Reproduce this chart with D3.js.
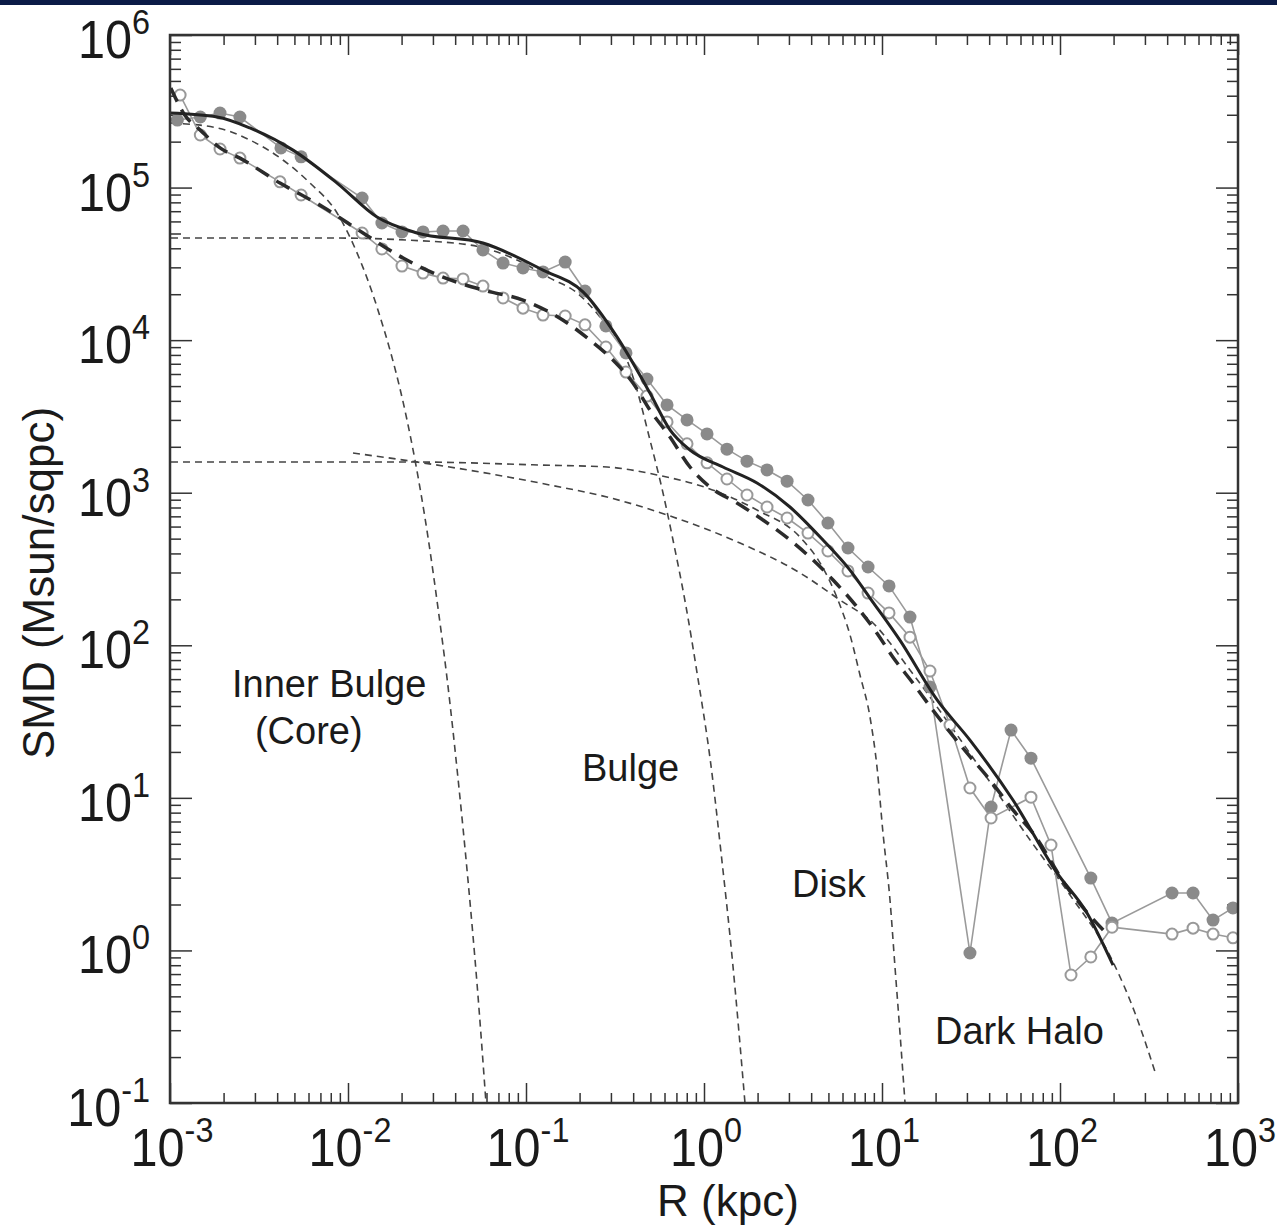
<!DOCTYPE html>
<html>
<head>
<meta charset="utf-8">
<script src="https://cdn.jsdelivr.net/npm/d3@7"></script>
<style>
  body { margin: 0; background: #fff; }
  text { font-family: "Liberation Sans", Arial, sans-serif; fill: #1a1a1a; }
</style>
</head>
<body>
<svg id="chart" width="1277" height="1230"></svg>
<script>
// decade exponents for the two log axes
var xExp = [-3, -2, -1, 0, 1, 2, 3];
var yExp = [-1, 0, 1, 2, 3, 4, 5, 6];

// observed profile, filled grey dots  [R kpc, SMD]
var filledPts = [
  [0.0011, 2.77e5], [0.00148, 2.90e5], [0.00191, 3.08e5], [0.00247, 2.90e5],
  [0.0042, 1.82e5], [0.00545, 1.59e5], [0.0120, 8.54e4], [0.0155, 5.86e4],
  [0.0201, 5.12e4], [0.0264, 5.12e4], [0.0342, 5.19e4], [0.0443, 5.19e4],
  [0.0573, 3.90e4], [0.0743, 3.20e4], [0.0962, 2.97e4], [0.1246, 2.80e4],
  [0.166, 3.25e4], [0.2145, 2.10e4], [0.281, 1.24e4], [0.3645, 8.24e3],
  [0.478, 5.56e3], [0.620, 3.76e3], [0.803, 3.00e3], [1.04, 2.43e3],
  [1.346, 1.93e3], [1.744, 1.61e3], [2.26, 1.41e3], [2.93, 1.19e3],
  [3.84, 896], [4.97, 633], [6.44, 434], [8.35, 326], [10.95, 245],
  [14.36, 153], [18.6, 53.3], [31.2, 0.962], [41.0, 8.71], [53.1, 27.8],
  [68.7, 18.2], [149, 2.98], [196, 1.51], [426, 2.38], [559, 2.38],
  [724, 1.58], [937, 1.90]
];

// observed profile, open circles
var openPts = [
  [0.00114, 4.04e5], [0.00148, 2.21e5], [0.00191, 1.79e5], [0.00247, 1.56e5],
  [0.00415, 1.09e5], [0.00545, 8.94e4], [0.0120, 5.04e4], [0.0155, 3.96e4],
  [0.0201, 3.06e4], [0.0264, 2.75e4], [0.0342, 2.55e4], [0.0443, 2.52e4],
  [0.0573, 2.26e4], [0.0743, 1.89e4], [0.0962, 1.62e4], [0.1246, 1.46e4],
  [0.166, 1.44e4], [0.2145, 1.26e4], [0.281, 9.02e3], [0.3645, 6.18e3],
  [0.478, 4.30e3], [0.620, 2.91e3], [0.803, 2.09e3], [1.04, 1.57e3],
  [1.346, 1.23e3], [1.744, 966], [2.26, 806], [2.93, 683], [3.84, 544],
  [4.97, 415], [6.44, 307], [8.35, 220], [10.95, 163], [14.36, 113],
  [18.6, 67.8], [24.1, 30.0], [31.2, 11.6], [41.0, 7.38], [68.7, 10.1],
  [89.0, 4.91], [115.3, 0.690], [149, 0.906], [196, 1.42], [426, 1.28],
  [559, 1.40], [724, 1.28], [937, 1.21]
];

// total model for the filled profile (solid)
var totalFilled = [
  [0.001, 3.08e5], [0.00184, 2.90e5], [0.00281, 2.46e5], [0.00491, 1.76e5],
  [0.00868, 1.07e5], [0.01455, 6.41e4], [0.0244, 5.04e4], [0.0573, 4.33e4],
  [0.1246, 2.88e4], [0.209, 2.07e4], [0.3245, 1.05e4], [0.497, 4.50e3],
  [0.644, 2.58e3], [0.834, 1.905e3], [1.278, 1.474e3], [1.985, 1.158e3],
  [3.04, 806], [4.66, 490], [6.61, 311], [8.56, 204], [12.6, 108],
  [20.4, 43.8], [31.2, 23.9], [54.4, 9.68], [96.2, 3.22], [141.8, 1.76],
  [198.6, 0.80]
];

// total model for the open profile (long dashes)
var totalOpen = [
  [0.00101, 4.49e5], [0.00121, 2.99e5], [0.00148, 2.38e5], [0.00191, 1.82e5],
  [0.00247, 1.56e5], [0.00415, 1.07e5], [0.00724, 7.46e4], [0.01215, 5.04e4],
  [0.0204, 3.45e4], [0.0342, 2.59e4], [0.0573, 2.13e4], [0.0962, 1.83e4],
  [0.161, 1.355e4], [0.229, 1.00e4], [0.308, 7.41e3], [0.399, 5.24e3],
  [0.497, 3.48e3], [0.644, 2.32e3], [0.834, 1.474e3], [1.081, 1.09e3],
  [1.532, 856], [2.145, 662], [3.04, 490], [4.10, 362], [5.31, 268],
  [7.24, 178], [9.37, 120], [11.5, 83.8], [14.9, 56.6], [19.3, 37.6],
  [30.0, 19.7], [40.4, 13.1], [54.4, 8.33], [70.5, 5.88], [109.5, 2.60],
  [186, 1.26]
];

// components (short dashes)
var innerBulge = [
  [0.001013, 2.65e5], [0.00184, 2.46e5], [0.00281, 2.05e5], [0.00431, 1.516e5],
  [0.00612, 1.07e5], [0.00868, 6.81e4], [0.01124, 3.73e4], [0.01455, 1.65e4],
  [0.02145, 3.00e3], [0.02378, 1.64e3], [0.02814, 512], [0.0320, 177],
  [0.0360, 61], [0.0415, 13.4], [0.0472, 2.9], [0.0531, 0.60], [0.0596, 0.1]
];
var bulge = [
  [0.001013, 4.67e4], [0.00823, 4.67e4], [0.02145, 4.53e4], [0.0485, 4.20e4],
  [0.089, 3.35e4], [0.1364, 2.55e4], [0.1934, 2.04e4], [0.2604, 1.418e4],
  [0.3506, 8.62e3], [0.4204, 4.71e3], [0.497, 2.22e3], [0.5885, 996],
  [0.6696, 490], [0.792, 180], [0.914, 66], [1.093, 16.5], [1.246, 4.4],
  [1.45, 0.82], [1.699, 0.1]
];
var disk = [
  [0.001013, 1.59e3], [0.0232, 1.59e3], [0.1199, 1.519e3], [0.2851, 1.474e3],
  [0.5445, 1.307e3], [1.04, 1.074e3], [1.985, 770], [3.462, 512],
  [4.662, 321], [5.657, 198], [6.61, 117], [7.52, 63.9], [8.56, 33.9],
  [9.374, 15.9], [10.13, 5.88], [11.09, 2.14], [11.83, 0.778],
  [12.62, 0.2875], [13.47, 0.1]
];
var darkHalo = [
  [0.01067, 1.82e3], [0.0244, 1.59e3], [0.0551, 1.367e3], [0.1364, 1.123e3],
  [0.2851, 937], [0.6696, 693], [1.593, 468], [3.462, 298], [5.808, 198],
  [8.90, 140], [14.36, 68.9], [24.1, 30.0], [40.4, 12.7], [67.9, 5.29],
  [113.8, 2.31], [198.6, 0.84], [263.8, 0.389], [341.8, 0.160]
];

// component names, anchored at their left baseline [R, SMD]
var labels = [
  { t: "Inner Bulge", r: 0.00223, v: 45.8 },
  { t: "(Core)", r: 0.0030, v: 22.5 },
  { t: "Bulge", r: 0.2064, v: 12.9 },
  { t: "Disk", r: 3.12, v: 2.24 },
  { t: "Dark Halo", r: 19.85, v: 0.2435 }
];

var svg = d3.select("#chart");
var pLeft = 170, pRight = 1238, pTop = 35, pBottom = 1103;

svg.append("rect").attr("x", 0).attr("y", 0).attr("width", 1277).attr("height", 5)
  .attr("fill", "#0b1b47");

var x = d3.scaleLog().domain([1e-3, 1e3]).range([pLeft, pRight]);
var y = d3.scaleLog().domain([1e-1, 1e6]).range([pBottom, pTop]);

var majorX = xExp.map(function (e) { return Math.pow(10, e); });
var majorY = yExp.map(function (e) { return Math.pow(10, e); });
var minorX = [], minorY = [];
xExp.slice(0, -1).forEach(function (e) { for (var k = 2; k < 10; k++) minorX.push(k * Math.pow(10, e)); });
yExp.slice(0, -1).forEach(function (e) { for (var k = 2; k < 10; k++) minorY.push(k * Math.pow(10, e)); });

// inward ticks on all four sides
function tickAxis(axis, tx, ty) {
  var g = svg.append("g").attr("transform", "translate(" + tx + "," + ty + ")").call(axis);
  g.select(".domain").remove();
  g.selectAll(".tick line").attr("stroke", "#333").attr("stroke-width", 1.5);
  g.selectAll(".tick text").remove();
}
tickAxis(d3.axisBottom(x).tickValues(majorX).tickSize(-20), 0, pBottom);
tickAxis(d3.axisBottom(x).tickValues(minorX).tickSize(-10), 0, pBottom);
tickAxis(d3.axisTop(x).tickValues(majorX).tickSize(-20), 0, pTop);
tickAxis(d3.axisTop(x).tickValues(minorX).tickSize(-10), 0, pTop);
tickAxis(d3.axisLeft(y).tickValues(majorY).tickSize(-22), pLeft, 0);
tickAxis(d3.axisLeft(y).tickValues(minorY).tickSize(-11), pLeft, 0);
tickAxis(d3.axisRight(y).tickValues(majorY).tickSize(-22), pRight, 0);
tickAxis(d3.axisRight(y).tickValues(minorY).tickSize(-11), pRight, 0);

svg.append("defs").append("clipPath").attr("id", "clip")
  .append("rect").attr("x", pLeft).attr("y", pTop)
  .attr("width", pRight - pLeft).attr("height", pBottom - pTop);

var plot = svg.append("g").attr("clip-path", "url(#clip)");

var smooth = d3.line()
  .x(function (d) { return x(d[0]); })
  .y(function (d) { return y(d[1]); })
  .curve(d3.curveMonotoneX);
var straight = d3.line()
  .x(function (d) { return x(d[0]); })
  .y(function (d) { return y(d[1]); });

// component curves
[innerBulge, bulge, disk, darkHalo].forEach(function (c) {
  plot.append("path").datum(c)
    .attr("d", smooth)
    .attr("fill", "none")
    .attr("stroke", "#444")
    .attr("stroke-width", 1.6)
    .attr("stroke-dasharray", "7,5");
});

// observed profiles
plot.append("path").datum(filledPts).attr("d", straight)
  .attr("fill", "none").attr("stroke", "#9a9a9a").attr("stroke-width", 1.6);
plot.append("path").datum(openPts).attr("d", straight)
  .attr("fill", "none").attr("stroke", "#9a9a9a").attr("stroke-width", 1.6);

plot.selectAll(".filled").data(filledPts).enter().append("circle")
  .attr("class", "filled")
  .attr("cx", function (d) { return x(d[0]); })
  .attr("cy", function (d) { return y(d[1]); })
  .attr("r", 6.5)
  .attr("fill", "#8a8a8a");

plot.selectAll(".open").data(openPts).enter().append("circle")
  .attr("class", "open")
  .attr("cx", function (d) { return x(d[0]); })
  .attr("cy", function (d) { return y(d[1]); })
  .attr("r", 5.5)
  .attr("fill", "#fff")
  .attr("stroke", "#999")
  .attr("stroke-width", 2);

// model totals
plot.append("path").datum(totalOpen).attr("d", smooth)
  .attr("fill", "none").attr("stroke", "#2b2b2b").attr("stroke-width", 3.5)
  .attr("stroke-dasharray", "15,9");
plot.append("path").datum(totalFilled).attr("d", smooth)
  .attr("fill", "none").attr("stroke", "#222").attr("stroke-width", 3);

// frame
svg.append("rect").attr("x", pLeft).attr("y", pTop)
  .attr("width", pRight - pLeft).attr("height", pBottom - pTop)
  .attr("fill", "none").attr("stroke", "#333").attr("stroke-width", 2.5);

// tick labels 10^n
function powLabel(g, e) {
  g.append("tspan").attr("font-size", 54).text("10");
  g.append("tspan").attr("font-size", 36).attr("dy", -24).text(e);
}
xExp.forEach(function (e) {
  var t = svg.append("text")
    .attr("transform", "translate(" + (x(Math.pow(10, e)) + 2) + ",1166) scale(0.9,1)")
    .attr("text-anchor", "middle");
  powLabel(t, e);
});
yExp.forEach(function (e) {
  var t = svg.append("text")
    .attr("transform", "translate(150," + (y(Math.pow(10, e)) + 23) + ") scale(0.9,1)")
    .attr("text-anchor", "end");
  powLabel(t, e);
});

// axis titles
svg.append("text").attr("x", 728).attr("y", 1216).attr("text-anchor", "middle")
  .attr("font-size", 44).text("R (kpc)");
svg.append("text").attr("transform", "translate(54,583) rotate(-90)")
  .attr("text-anchor", "middle").attr("font-size", 44).text("SMD (Msun/sqpc)");

// component labels
svg.selectAll(".lab").data(labels).enter().append("text")
  .attr("class", "lab")
  .attr("x", function (d) { return x(d.r); })
  .attr("y", function (d) { return y(d.v); })
  .attr("font-size", 38)
  .text(function (d) { return d.t; });
</script>
</body>
</html>
